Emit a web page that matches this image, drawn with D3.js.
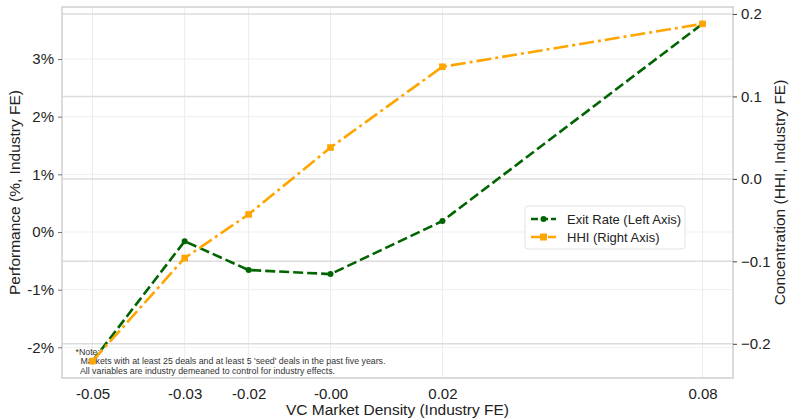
<!DOCTYPE html>
<html>
<head>
<meta charset="utf-8">
<script src="https://cdn.jsdelivr.net/npm/d3@7"></script>
<style>
  body { margin: 0; background: #fff; }
  text { font-family: "Liberation Sans", Arial, sans-serif; }
</style>
</head>
<body>
<div id="chart"></div>
<script>
// size / margins
const width = 791;
const height = 419;
const margin = {top: 7, right: 58, bottom: 41, left: 62};
const chart_width = width - margin.left - margin.right;
const chart_height = height - margin.top - margin.bottom;

// data
const density = [-0.051, -0.0314, -0.0178, -0.0004, 0.0234, 0.0787];
const exitRate = [-2.24, -0.16, -0.66, -0.73, 0.19, 3.61];   // %
const hhi = [-0.221, -0.096, -0.043, 0.038, 0.136, 0.188];
const leftTicks = [-2, -1, 0, 1, 2, 3];
const rightTicks = [-0.2, -0.1, 0.0, 0.1, 0.2];
const noteLines = [
  "*Note:",
  "  Markets with at least 25 deals and at least 5 'seed' deals in the past five years.",
  "  All variables are industry demeaned to control for industry effects."
];

// padded domain like matplotlib's 5% margins
function pad(arr) {
  const lo = d3.min(arr), hi = d3.max(arr), m = (hi - lo) * 0.05;
  return [lo - m, hi + m];
}

var x = d3.scaleLinear().domain(pad(density)).range([0, chart_width]);
var yL = d3.scaleLinear().domain(pad(exitRate)).range([chart_height, 0]);
var yR = d3.scaleLinear().domain(pad(hhi)).range([chart_height, 0]);

var svg = d3.select("#chart").append("svg")
    .attr("width", width)
    .attr("height", height);

var g = svg.append("g")
    .attr("transform", `translate(${margin.left}, ${margin.top})`);

// grids
g.append("g").selectAll("line").data(density).enter().append("line")
    .attr("x1", d => x(d)).attr("x2", d => x(d))
    .attr("y1", 0).attr("y2", chart_height)
    .attr("stroke", "#ececec").attr("stroke-width", 1);
g.append("g").selectAll("line").data(leftTicks).enter().append("line")
    .attr("x1", 0).attr("x2", chart_width)
    .attr("y1", d => yL(d)).attr("y2", d => yL(d))
    .attr("stroke", "#efefef").attr("stroke-width", 1);
g.append("g").selectAll("line").data(rightTicks).enter().append("line")
    .attr("x1", 0).attr("x2", chart_width)
    .attr("y1", d => yR(d)).attr("y2", d => yR(d))
    .attr("stroke", "#dcdcdc").attr("stroke-width", 1.5);

// note text box (lines drawn over it)
var note = g.append("g").attr("transform", `translate(${x(density[0]) - 17}, ${yL(-2.13)})`);
note.selectAll("text").data(noteLines).enter().append("text")
    .attr("x", 0)
    .attr("y", (d, i) => i * 9.6)
    .attr("font-size", 8.8)
    .attr("fill", "#333")
    .attr("xml:space", "preserve")
    .style("white-space", "pre")
    .text(d => d);

// lines
var lineL = d3.line().x((d, i) => x(density[i])).y(d => yL(d));
var lineR = d3.line().x((d, i) => x(density[i])).y(d => yR(d));

g.append("path").datum(exitRate)
    .attr("d", lineL)
    .attr("fill", "none")
    .attr("stroke", "#006400")
    .attr("stroke-width", 2.6)
    .attr("stroke-dasharray", "10,4");
g.selectAll(".pt").data(exitRate).enter().append("circle")
    .attr("class", "pt")
    .attr("cx", (d, i) => x(density[i]))
    .attr("cy", d => yL(d))
    .attr("r", 3)
    .attr("fill", "#006400");

g.append("path").datum(hhi)
    .attr("d", lineR)
    .attr("fill", "none")
    .attr("stroke", "#FFA500")
    .attr("stroke-width", 2.6)
    .attr("stroke-dasharray", "15,4,3,4");
g.selectAll(".sq").data(hhi).enter().append("rect")
    .attr("class", "sq")
    .attr("x", (d, i) => x(density[i]) - 3.3)
    .attr("y", d => yR(d) - 3.3)
    .attr("width", 6.6).attr("height", 6.6)
    .attr("fill", "#FFA500");

// frame
g.append("rect")
    .attr("width", chart_width).attr("height", chart_height)
    .attr("fill", "none").attr("stroke", "#cfcfcf").attr("stroke-width", 1.5);

// axes
var x_axis = d3.axisBottom(x).tickValues(density).tickSize(0).tickPadding(10)
    .tickFormat(d => d.toFixed(2));
var xg = g.append("g").attr("transform", `translate(0, ${chart_height})`).call(x_axis);

var yl_axis = d3.axisLeft(yL).tickValues(leftTicks).tickSize(4).tickPadding(4)
    .tickFormat(d => (d < 0 ? "-" : "") + Math.abs(d) + "%");
var ylg = g.append("g").call(yl_axis);

var yr_axis = d3.axisRight(yR).tickValues(rightTicks).tickSize(4).tickPadding(4)
    .tickFormat(d => (d < 0 ? "\u2212" : "") + Math.abs(d).toFixed(1));
var yrg = g.append("g").attr("transform", `translate(${chart_width}, 0)`).call(yr_axis);

[xg, ylg, yrg].forEach(a => {
  a.select(".domain").remove();
  a.selectAll("text").attr("font-size", 15).attr("fill", "#222")
    .style("font-family", "'Liberation Sans', Arial, sans-serif");
});
ylg.selectAll("line").attr("stroke", "#777");
yrg.selectAll("line").attr("stroke", "#444");

// axis titles
svg.append("text")
    .attr("x", margin.left + chart_width / 2).attr("y", 415)
    .attr("text-anchor", "middle").attr("font-size", 15.5).attr("fill", "#222")
    .text("VC Market Density (Industry FE)");
svg.append("text")
    .attr("transform", `translate(20, ${margin.top + chart_height / 2}) rotate(-90)`)
    .attr("text-anchor", "middle").attr("font-size", 15.5).attr("fill", "#222")
    .text("Performance (%, Industry FE)");
svg.append("text")
    .attr("transform", `translate(785, ${margin.top + chart_height / 2}) rotate(-90)`)
    .attr("text-anchor", "middle").attr("font-size", 15.5).attr("fill", "#222")
    .text("Concentration (HHI, Industry FE)");

// legend
var leg = svg.append("g").attr("transform", "translate(525, 206)");
leg.append("rect")
    .attr("width", 160).attr("height", 43).attr("rx", 3)
    .attr("fill", "#fff").attr("stroke", "#e2e2e2");
var items = [
  {label: "Exit Rate (Left Axis)", color: "#006400", dash: "7,3", mark: "circle"},
  {label: "HHI (Right Axis)", color: "#FFA500", dash: "9,3,2,3", mark: "square"}
];
var li = leg.selectAll(".li").data(items).enter().append("g")
    .attr("transform", (d, i) => `translate(0, ${13 + i * 18})`);
li.append("line")
    .attr("x1", 6).attr("x2", 31).attr("y1", 0).attr("y2", 0)
    .attr("stroke", d => d.color).attr("stroke-width", 2.6)
    .attr("stroke-dasharray", d => d.dash);
li.filter(d => d.mark === "circle").append("circle")
    .attr("cx", 18.5).attr("cy", 0).attr("r", 3).attr("fill", d => d.color);
li.filter(d => d.mark === "square").append("rect")
    .attr("x", 15).attr("y", -3.5).attr("width", 7).attr("height", 7).attr("fill", d => d.color);
li.append("text")
    .attr("x", 42).attr("y", 5)
    .attr("font-size", 13).attr("fill", "#222")
    .text(d => d.label);
</script>
</body>
</html>
